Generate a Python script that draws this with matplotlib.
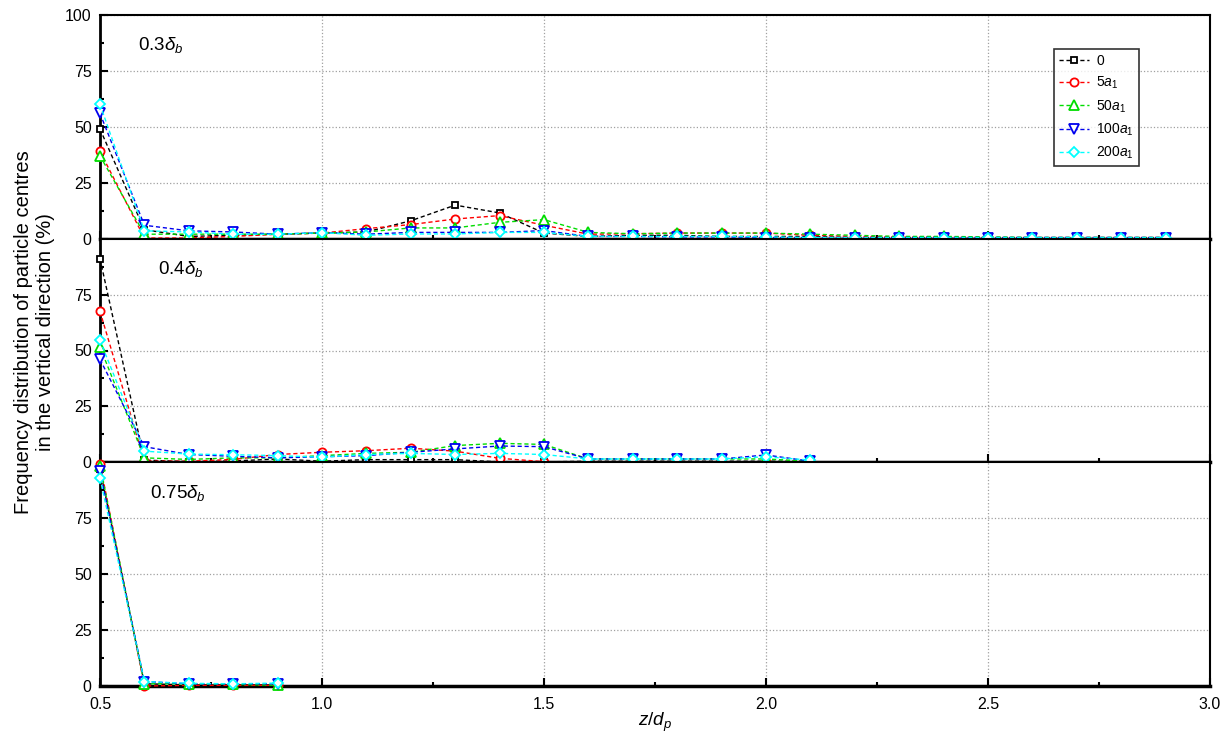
import numpy as np
import matplotlib
matplotlib.use('Agg')
import matplotlib.pyplot as plt
from matplotlib.ticker import MultipleLocator, FormatStrFormatter

plt.rcParams['font.family'] = ['Liberation Sans', 'DejaVu Sans']
plt.rcParams['mathtext.fontset'] = 'custom'
plt.rcParams['mathtext.rm'] = 'Liberation Sans'
plt.rcParams['mathtext.it'] = 'Liberation Sans:italic'

# z/dp positions for each bed depth
z_03 = np.round(np.arange(0.5, 2.95, 0.1), 1)
z_04 = np.round(np.arange(0.5, 2.15, 0.1), 1)
z_075 = np.round(np.arange(0.5, 0.95, 0.1), 1)

labels = ['0', r'5$a_1$', r'50$a_1$', r'100$a_1$', r'200$a_1$']

# 0.3 delta_b
f03_0 = [49, 4, 1, 1.5, 2, 2.5, 3, 8, 15, 11.5, 2.5, 1, 1.5, 1.5, 1, 1, 1, 0.5, 0.5, 0.5, 0.5, 0.5, 0.5, 0.5, 0.5]
f03_5 = [39, 0.3, 0.3, 1, 2, 2.5, 4.5, 6.3, 8.8, 10.3, 6, 2, 2.2, 2.5, 2.5, 2.5, 1.5, 1, 0.8, 0.7, 0.5, 0.5, 0.5, 0.5, 0.5]
f03_50 = [37, 2, 2, 2, 2, 2.5, 3, 4.8, 4.8, 7.3, 8.5, 2.8, 2.2, 2.5, 2.5, 2.5, 2, 1.5, 1, 1, 0.8, 0.5, 0.5, 0.5, 0.5]
f03_100 = [56, 6, 3.5, 3, 2, 2.7, 2, 2.8, 2.8, 2.8, 3.6, 1, 1, 0.8, 0.8, 0.5, 0.5, 0.5, 0.5, 0.5, 0.5, 0.5, 0.5, 0.5, 0.5]
f03_200 = [60, 3.5, 3, 2, 2, 2.7, 1.5, 2.1, 2.1, 2.8, 2.8, 1, 1, 1, 1, 0.8, 0.5, 0.5, 0.5, 0.5, 0.5, 0.5, 0.5, 0.5, 0.5]

# 0.4 delta_b
f04_0 = [91, 1, 0.3, 0.6, 1.5, 0.5, 1.2, 1.2, 1.2, 0.2, 0.2, 0.5, 0.5, 0.5, 0.5, 0.5, 0.5]
f04_5 = [67.5, 0.5, 0.5, 1.3, 3.5, 4.5, 5.2, 6.3, 5, 1.8, 0.3, 0.2, 0.2, 0.2, 0.2, 0.2, 0.5]
f04_50 = [51.5, 2, 1.3, 2, 2, 3, 4, 4.5, 7.5, 8.5, 8, 1.5, 1.5, 1.5, 1.5, 1.5, 0.5]
f04_100 = [46, 7, 3.5, 2.7, 2, 2.5, 3, 4.5, 6, 7.3, 7, 1.5, 1.5, 1.5, 1.5, 3.3, 0.5]
f04_200 = [54.5, 5, 3.7, 3.4, 3, 2.3, 3.5, 4, 3.5, 4, 3.5, 1.5, 1.5, 1.5, 1.5, 2.5, 1]

# 0.75 delta_b
f075_0 = [97, 1, 0.5, 0.5, 0.5]
f075_5 = [99.3, 0, 0.3, 0.3, 0.3]
f075_50 = [98.5, 1, 1, 0.7, 0.3]
f075_100 = [96, 2, 1, 1, 1]
f075_200 = [93, 2, 1.2, 1, 1.3]

colors = ['black', 'red', '#00dd00', '#0000ee', 'cyan']
markers = ['s', 'o', '^', 'v', 'D']
msizes = [4.2, 5.9, 6.6, 6.6, 5.6]

panels = [
    (z_03, [f03_0, f03_5, f03_50, f03_100, f03_200], r'0.3$\delta_b$', 0.586),
    (z_04, [f04_0, f04_5, f04_50, f04_100, f04_200], r'0.4$\delta_b$', 0.63),
    (z_075, [f075_0, f075_5, f075_50, f075_100, f075_200], r'0.75$\delta_b$', 0.613),
]

fig = plt.figure(figsize=(12.29, 7.4), dpi=100)
left, right = 100 / 1229, 1210 / 1229
top, bottom = 1 - 15 / 740, 1 - 686 / 740
h = (top - bottom) / 3

axes = []
for i, (z, series, tag, tx) in enumerate(panels):
    ax = fig.add_axes([left, top - (i + 1) * h, right - left, h])
    axes.append(ax)
    for y, c, m, ms, lab in zip(series, colors, markers, msizes, labels):
        ax.plot(z, y, linestyle=(0, (3, 2)), color=c, lw=1, marker=m, ms=ms,
                mfc='white', mec=c, mew=1.3, label=lab, clip_on=False, zorder=5)
    ax.set_xlim(0.5, 3.0)
    ax.set_ylim(0, 100)
    ax.xaxis.set_major_locator(MultipleLocator(0.5))
    ax.xaxis.set_minor_locator(MultipleLocator(0.25))
    ax.yaxis.set_major_locator(MultipleLocator(25))
    ax.yaxis.set_minor_locator(MultipleLocator(12.5))
    ax.tick_params(which='both', direction='in', top=False, right=False, width=1.5, labelsize=11.5)
    ax.tick_params(axis='y', pad=6)
    ax.tick_params(which='major', length=6)
    ax.tick_params(which='minor', length=3)
    ax.grid(True, which='major', linestyle=':', color='#a0a0a0', lw=0.9)
    for s in ax.spines.values():
        s.set_linewidth(1.5)
    ax.spines['bottom'].set_linewidth(2.5)
    ax.spines['left'].set_linewidth(2)
    ax.text(tx, 86.5, tag, fontsize=13.5, va='center', ha='left')
    if i < 2:
        ax.tick_params(axis='x', labelbottom=False)
    if i > 0:
        ax.set_yticks([0, 25, 50, 75])
        ax.set_yticks([12.5, 37.5, 62.5, 87.5], minor=True)

axes[2].xaxis.set_major_formatter(FormatStrFormatter('%.1f'))
axes[2].tick_params(axis='x', pad=8)
axes[2].set_xlabel(r'$z/d_p$', fontsize=13.5, labelpad=-1)

leg = axes[0].legend(loc='upper right', bbox_to_anchor=(0.936, 0.848), borderaxespad=0,
                     fontsize=10, frameon=True, fancybox=False, edgecolor='black',
                     handlelength=2.2, labelspacing=0.5, borderpad=0.35, handletextpad=0.5)
leg.get_frame().set_linewidth(1.2)

fig.text(0.028, 0.551, 'Frequency distribution of particle centres\nin the vertical direction (%)',
         rotation=90, ha='center', va='center', fontsize=14.5, linespacing=1.25)

plt.savefig('out.png', dpi=100)
